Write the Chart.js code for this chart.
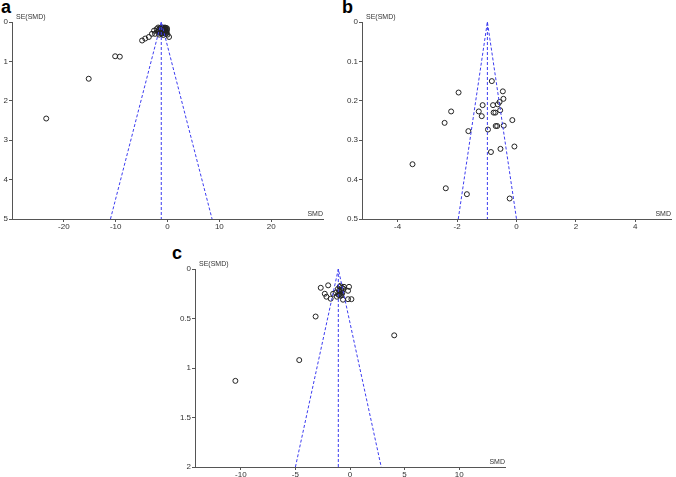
<!DOCTYPE html>
<html>
<head>
<meta charset="utf-8">
<script src="https://cdn.jsdelivr.net/npm/chart.js@4.4.1/dist/chart.umd.min.js"></script>
<style>
  body { margin: 0; background: #fff; width: 676px; height: 477px; position: relative; overflow: hidden; font-family: "Liberation Sans", Arial, sans-serif; }
  .panel { position: absolute; }
  .tag { position: absolute; font-weight: bold; font-size: 18px; line-height: 18px; color: #000; }
</style>
</head>
<body>
<div class="tag" style="left:1px;top:-2px;">a</div>
<div class="tag" style="left:342px;top:-2px;">b</div>
<div class="tag" style="left:172px;top:244px;">c</div>

<div class="panel" style="left:0;top:0;"><canvas id="chartA" width="340" height="240"></canvas></div>
<div class="panel" style="left:340px;top:0;"><canvas id="chartB" width="336" height="240"></canvas></div>
<div class="panel" style="left:160px;top:230px;"><canvas id="chartC" width="350" height="247"></canvas></div>

<script>
// --- panel a ---
const aSMD = [-23.4, -15.2, -10.1, -9.2, -4.9, -4.3, -3.6, -3.0, -2.6, -2.4, -2.1, -1.9, -1.7, -1.5, -1.4, -1.3, -1.2, -1.1, -1.0, -0.9, -0.8, -0.7, -0.6, -0.5, -0.4, -0.3, -0.2, -0.1, 0.0, 0.3, -1.6, -1.0, -0.8, -0.5,
              -1.8, -1.5, -1.3, -1.1, -0.9, -0.7, -0.5, -0.3, -0.1, -1.4, -1.2, -0.6, -0.4, -0.2, -1.7, -0.9];
const aSE  = [2.45, 1.44, 0.87, 0.88, 0.47, 0.42, 0.38, 0.30, 0.22, 0.30, 0.18, 0.25, 0.20, 0.28, 0.22, 0.18, 0.25, 0.30, 0.20, 0.24, 0.18, 0.28, 0.22, 0.26, 0.19, 0.30, 0.24, 0.20, 0.32, 0.38, 0.32, 0.15, 0.33, 0.16,
              0.14, 0.16, 0.14, 0.16, 0.14, 0.15, 0.14, 0.15, 0.16, 0.26, 0.21, 0.25, 0.23, 0.27, 0.24, 0.28];
const aFunnelX  = [-11.0, -1.2, 8.6];
const aFunnelSE = [5, 0, 5];
const aPooledX  = [-1.2, -1.2];
const aPooledSE = [0, 5];
const aXTicks = [-20, -10, 0, 10, 20];
const aYTicks = [0, 1, 2, 3, 4, 5];

// --- panel b ---
const bSMD = [-0.83, -1.95, -0.46, -0.44, -1.14, -0.79, -0.63, -0.57, -2.20, -1.27, -0.77, -0.71, -0.55, -1.17, -2.42, -0.14, -1.62, -0.96, -0.70, -0.65, -0.43, -0.07, -0.54, -0.86, -3.50, -2.38, -1.67, -0.23];
const bSE  = [0.150, 0.179, 0.176, 0.195, 0.211, 0.211, 0.209, 0.203, 0.227, 0.227, 0.230, 0.230, 0.224, 0.239, 0.256, 0.249, 0.277, 0.273, 0.264, 0.264, 0.263, 0.316, 0.322, 0.330, 0.361, 0.422, 0.437, 0.448];
const bFunnelX  = [-1.96, -0.98, 0.0];
const bFunnelSE = [0.5, 0, 0.5];
const bPooledX  = [-0.98, -0.98];
const bPooledSE = [0, 0.5];
const bXTicks = [-4, -2, 0, 2, 4];
const bYTicks = [0, 0.1, 0.2, 0.3, 0.4, 0.5];

// --- panel c ---
const cSMD = [-10.5, -4.65, -3.15, 4.05, -2.68, -2.0, -2.31, -2.16, -1.77, -1.55, -1.31, -0.94, -1.1, -1.0, -0.9, -0.85, -0.8, -0.75, -1.05, -0.95, -0.7, -0.6, -0.55, -0.09, -0.18, -0.64, -0.18, 0.13, -1.2, -0.88, -1.0, -0.78];
const cSE  = [1.13, 0.92, 0.48, 0.67, 0.19, 0.165, 0.25, 0.28, 0.30, 0.25, 0.24, 0.18, 0.20, 0.22, 0.25, 0.27, 0.21, 0.19, 0.26, 0.23, 0.24, 0.20, 0.18, 0.18, 0.22, 0.31, 0.305, 0.305, 0.28, 0.17, 0.26, 0.26];
const cFunnelX  = [-5.0, -1.07, 2.86];
const cFunnelSE = [2, 0, 2];
const cPooledX  = [-1.07, -1.07];
const cPooledSE = [0, 2];
const cXTicks = [-10, -5, 0, 5, 10];
const cYTicks = [0, 0.5, 1, 1.5, 2];

const axisColor = '#555';
const tickFont = { family: '"Liberation Sans", Arial, sans-serif', size: 8 };
const funnelBlue = '#3c3cf0';

const toPts = (xs, ys) => xs.map((x, i) => ({ x: x, y: ys[i] }));

// little plugin for the "SE(SMD)" and "SMD" axis captions
const axisCaptions = {
  id: 'axisCaptions',
  afterDraw(chart) {
    const { ctx, chartArea } = chart;
    ctx.save();
    ctx.fillStyle = '#333';
    ctx.font = '7px "Liberation Sans", Arial, sans-serif';
    ctx.textBaseline = 'alphabetic';
    ctx.textAlign = 'left';
    ctx.fillText('SE(SMD)', chartArea.left + 4, chartArea.top - 3);
    ctx.textAlign = 'right';
    ctx.fillText('SMD', chartArea.right, chartArea.bottom - 3);
    ctx.restore();
  }
};

function makeFunnel(id, cfg) {
  return new Chart(document.getElementById(id), {
    type: 'scatter',
    data: {
      datasets: [
        {
          type: 'line',
          data: toPts(cfg.funnelX, cfg.funnelSE),
          borderColor: funnelBlue,
          borderWidth: 1,
          borderDash: [3, 2],
          pointRadius: 0,
          fill: false,
          tension: 0,
        },
        {
          type: 'line',
          data: toPts(cfg.pooledX, cfg.pooledSE),
          borderColor: funnelBlue,
          borderWidth: 1,
          borderDash: [3, 2],
          pointRadius: 0,
          fill: false,
        },
        {
          data: toPts(cfg.smd, cfg.se),
          pointRadius: 2.5,
          pointBorderWidth: 1,
          pointBorderColor: '#222',
          pointBackgroundColor: 'rgba(0,0,0,0)',
        },
      ],
    },
    options: {
      responsive: false,
      animation: false,
      devicePixelRatio: 1,
      layout: { padding: { top: cfg.padTop, right: cfg.padRight, left: 0, bottom: 0 } },
      plugins: { legend: { display: false }, tooltip: { enabled: false } },
      scales: {
        x: {
          type: 'linear',
          min: cfg.xMin,
          max: cfg.xMax,
          afterBuildTicks: (s) => { s.ticks = cfg.xTicks.map(v => ({ value: v })); },
          afterFit: (s) => { s.height = cfg.xHeight; },
          grid: { drawOnChartArea: false, drawTicks: true, tickLength: 3, color: axisColor },
          border: { display: true, color: axisColor, width: 1 },
          ticks: { font: tickFont, color: '#333', padding: 0, autoSkip: false, maxRotation: 0, callback: (v) => String(v) },
        },
        y: {
          type: 'linear',
          reverse: true,
          min: cfg.yMin,
          max: cfg.yMax,
          afterBuildTicks: (s) => { s.ticks = cfg.yTicks.map(v => ({ value: v })); },
          afterFit: (s) => { s.width = cfg.yWidth; },
          grid: { drawOnChartArea: false, drawTicks: true, tickLength: 3, color: axisColor },
          border: { display: true, color: axisColor, width: 1 },
          ticks: { font: tickFont, color: '#333', padding: 1, autoSkip: false, callback: (v) => String(v) },
        },
      },
    },
    plugins: [axisCaptions],
  });
}

makeFunnel('chartA', {
  smd: aSMD, se: aSE, funnelX: aFunnelX, funnelSE: aFunnelSE, pooledX: aPooledX, pooledSE: aPooledSE,
  xTicks: aXTicks, yTicks: aYTicks, xMin: -30, xMax: 30, yMin: 0, yMax: 5,
  padTop: 22, padRight: 17, yWidth: 12, xHeight: 21,
});

makeFunnel('chartB', {
  smd: bSMD, se: bSE, funnelX: bFunnelX, funnelSE: bFunnelSE, pooledX: bPooledX, pooledSE: bPooledSE,
  xTicks: bXTicks, yTicks: bYTicks, xMin: -5.2, xMax: 5.2, yMin: 0, yMax: 0.5,
  padTop: 22, padRight: 3, yWidth: 22, xHeight: 21,
});

makeFunnel('chartC', {
  smd: cSMD, se: cSE, funnelX: cFunnelX, funnelSE: cFunnelSE, pooledX: cPooledX, pooledSE: cPooledSE,
  xTicks: cXTicks, yTicks: cYTicks, xMin: -14.2, xMax: 14.2, yMin: 0, yMax: 2,
  padTop: 39, padRight: 4, yWidth: 35, xHeight: 10,
});
</script>
</body>
</html>
